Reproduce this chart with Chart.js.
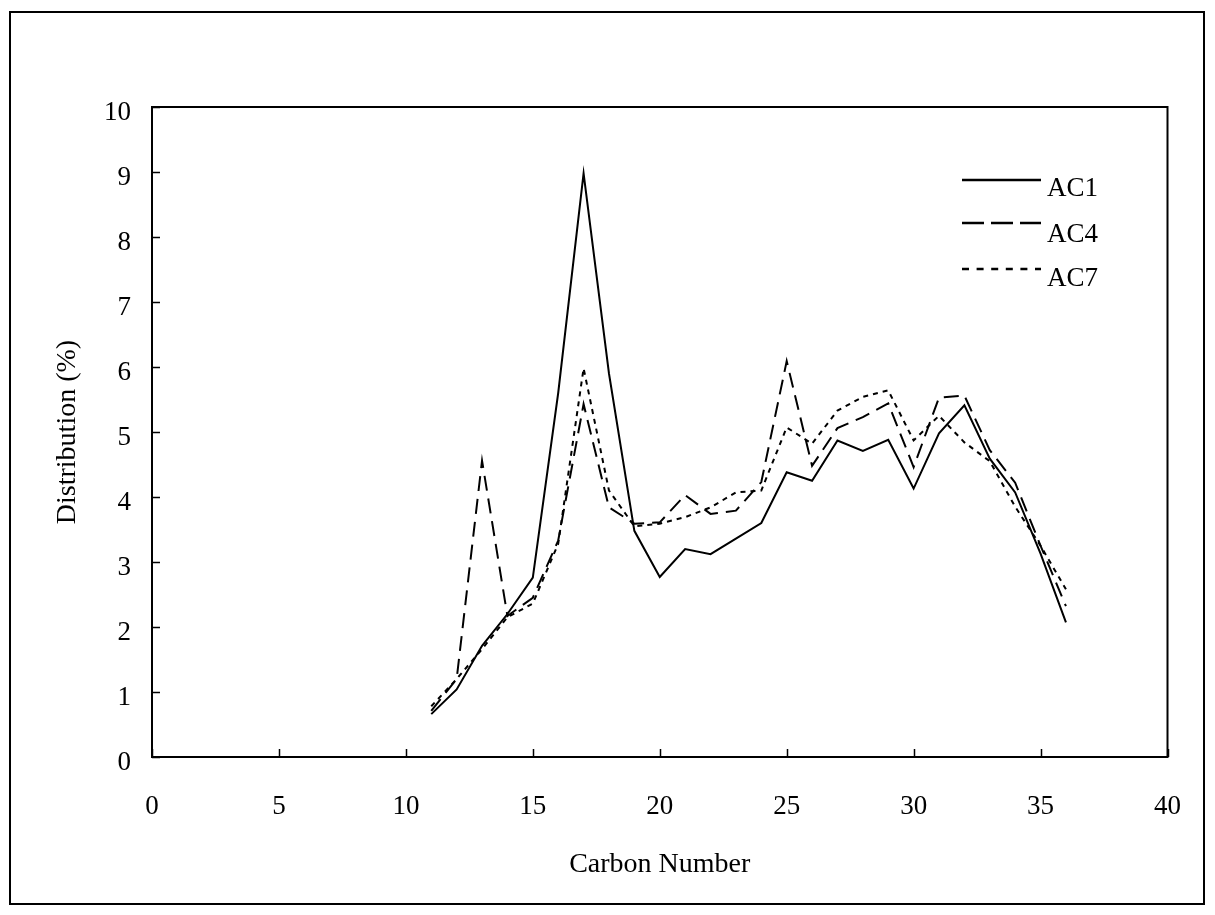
<!DOCTYPE html>
<html><head><meta charset="utf-8">
<script src="https://cdn.jsdelivr.net/npm/chart.js@4.4.0/dist/chart.umd.min.js"></script>
<style>html,body{margin:0;padding:0;background:#fff;}#wrap{width:1215px;height:915px;position:relative;}</style>
</head><body><div id="wrap"><canvas id="c" width="1215" height="915"></canvas></div>
<script>
const carbonNumbers = [11,12,13,14,15,16,17,18,19,20,21,22,23,24,25,26,27,28,29,30,31,32,33,34,35,36];
const ac1 = [0.66,1.04,1.71,2.2,2.76,5.6,8.98,5.9,3.48,2.77,3.2,3.12,3.36,3.6,4.38,4.25,4.87,4.71,4.88,4.13,4.98,5.41,4.59,4.07,3.13,2.07];
const ac4 = [0.71,1.2,4.56,2.17,2.45,3.33,5.43,3.84,3.59,3.61,4.03,3.74,3.79,4.23,6.09,4.48,5.06,5.23,5.44,4.46,5.53,5.56,4.72,4.22,3.25,2.32];
const ac7 = [0.78,1.2,1.66,2.15,2.36,3.28,5.98,4.1,3.55,3.59,3.69,3.84,4.07,4.1,5.07,4.82,5.33,5.54,5.64,4.87,5.25,4.84,4.55,3.85,3.25,2.58];
const seriesNames = ['AC1','AC4','AC7'];
const xTickValues = [0,5,10,15,20,25,30,35,40];
const yTickValues = [0,1,2,3,4,5,6,7,8,9,10];

const FONT = {family:'"Liberation Serif", "Times New Roman", serif', size:27};
const TITLE_FONT = {family:'"Liberation Serif", "Times New Roman", serif', size:28};
const toPts = arr => carbonNumbers.map((c,i)=>({x:c,y:arr[i]}));

const frame = {
  id:'frame',
  beforeDraw(chart){
    const ctx = chart.ctx;
    ctx.save();
    ctx.fillStyle='#fff';
    ctx.fillRect(0,0,chart.width,chart.height);
    ctx.strokeStyle='#000'; ctx.lineWidth=2;
    ctx.strokeRect(10,12,1194,892);
    ctx.restore();
  },
  afterDraw(chart){
    const ctx = chart.ctx, a = chart.chartArea;
    const xs = chart.scales.x, ys = chart.scales.y;
    ctx.save();
    ctx.strokeStyle='#000'; ctx.lineWidth=2;
    ctx.strokeRect(a.left,a.top,a.right-a.left,a.bottom-a.top);
    ctx.lineWidth=1.5;
    ctx.beginPath();
    xTickValues.forEach(v=>{const p=Math.round(xs.getPixelForValue(v))+0.5; ctx.moveTo(p,a.bottom); ctx.lineTo(p,a.bottom-8);});
    yTickValues.forEach(v=>{const p=Math.round(ys.getPixelForValue(v))+0.5; ctx.moveTo(a.left,p); ctx.lineTo(a.left+8,p);});
    ctx.stroke();
    // legend
    const rows=[{y:180,tb:196},{y:223,tb:242},{y:269,tb:286}];
    const dashes=[[],[22,7],[7,7.6]];
    chart.data.datasets.forEach((ds,i)=>{
      ctx.beginPath();
      ctx.setLineDash(dashes[i]);
      ctx.lineWidth=2.5;
      ctx.strokeStyle=ds.borderColor;
      ctx.moveTo(962,rows[i].y); ctx.lineTo(1041,rows[i].y);
      ctx.stroke();
      ctx.setLineDash([]);
      ctx.fillStyle='#000';
      ctx.font = FONT.size+'px '+FONT.family;
      ctx.textBaseline='alphabetic'; ctx.textAlign='left';
      ctx.fillText(ds.label,1047,rows[i].tb);
    });
    ctx.restore();
  }
};

new Chart(document.getElementById('c'),{
  type:'line',
  data:{datasets:[
    {label:seriesNames[0],data:toPts(ac1),borderColor:'#000',borderWidth:2,borderDash:[]},
    {label:seriesNames[1],data:toPts(ac4),borderColor:'#000',borderWidth:2,borderDash:[15,8]},
    {label:seriesNames[2],data:toPts(ac7),borderColor:'#000',borderWidth:2,borderDash:[5,5]}
  ]},
  options:{
    responsive:false, animation:false, devicePixelRatio:1,
    layout:{padding:{left:0,top:107,right:44,bottom:0}},
    elements:{point:{radius:0,hoverRadius:0},line:{tension:0,fill:false}},
    plugins:{legend:{display:false},tooltip:{enabled:false}},
    scales:{
      x:{type:'linear',min:0,max:40,
        afterBuildTicks(s){s.ticks=xTickValues.map(v=>({value:v}));},
        ticks:{font:FONT,color:'#000',padding:34,maxRotation:0,autoSkip:false},
        grid:{display:false,drawTicks:false},border:{display:false},
        title:{display:true,text:'Carbon Number',font:TITLE_FONT,color:'#000',padding:{top:0,bottom:34}},
        afterFit(s){s.height=158;}
      },
      y:{type:'linear',min:0,max:10,
        afterBuildTicks(s){s.ticks=yTickValues.map(v=>({value:v}));},
        ticks:{font:FONT,color:'#000',padding:21,labelOffset:6,autoSkip:false},
        grid:{display:false,drawTicks:false},border:{display:false},
        title:{display:true,text:'Distribution (%)',font:TITLE_FONT,color:'#000',padding:{top:51,bottom:0}},
        afterFit(s){s.width=152;}
      }
    }
  },
  plugins:[frame]
});
</script></body></html>
